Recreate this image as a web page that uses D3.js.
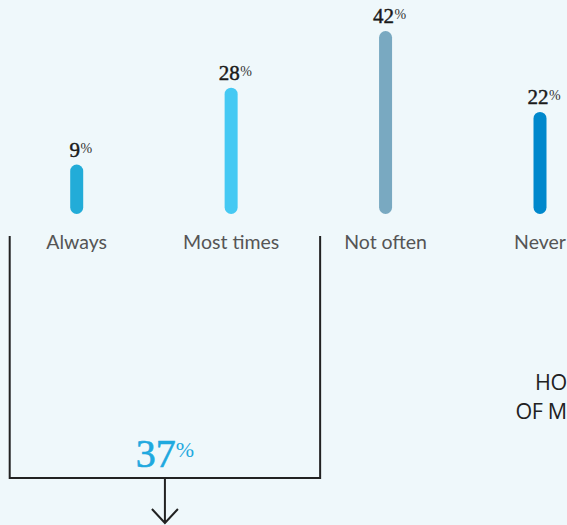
<!DOCTYPE html>
<html>
<head>
<meta charset="utf-8">
<script src="https://cdn.jsdelivr.net/npm/d3@7"></script>
<style>
  html, body { margin: 0; padding: 0; background: #eff8fb; }
  svg { display: block; }
</style>
</head>
<body>
<div id="chart"></div>
<script>
// data
var categories = ["Always", "Most times", "Not often", "Never"];
var values = [9, 28, 42, 22];
var barColors = ["#22acd8", "#45c9f3", "#79a9c1", "#0088cc"];
// the bracket groups the first two answers
var groupedCats = ["Always", "Most times"];
// side title, only the part that shows at the right edge
var sideTitle = ["HO", "OF M"];

var width = 567, height = 525;

var svg = d3.select("#chart").append("svg")
    .attr("width", width)
    .attr("height", height);

svg.append("rect")
    .attr("width", width)
    .attr("height", height)
    .attr("fill", "#eff8fb");

// set the ranges
var x = d3.scalePoint().domain(categories).range([76.7, 540]);
var y = d3.scaleLinear().domain([0, 42]).range([207.5, 37.5]);

// bars as thick lines with round caps
svg.selectAll(".bar")
    .data(values)
    .enter()
    .append("line")
    .attr("class", "bar")
    .attr("x1", function(d, i) { return x(categories[i]); })
    .attr("x2", function(d, i) { return x(categories[i]); })
    .attr("y1", y(0))
    .attr("y2", function(d) { return y(d); })
    .attr("stroke", function(d, i) { return barColors[i]; })
    .attr("stroke-width", 13)
    .attr("stroke-linecap", "round");

// value labels: number centred on the bar, small % after it
var serif = "'Liberation Serif', 'DejaVu Serif', serif";
values.forEach(function(v, i) {
    var cx = x(categories[i]);
    var by = y(v) - 6.5 - 8;
    var num = svg.append("text")
        .attr("x", cx - 2)
        .attr("y", by)
        .attr("text-anchor", "middle")
        .attr("font-family", serif)
        .attr("font-size", 21)
        .attr("fill", "#1a1a1a")
        .attr("stroke", "#1a1a1a")
        .attr("stroke-width", 0.45)
        .text(v);
    var w = num.node().getComputedTextLength();
    svg.append("text")
        .attr("x", cx - 2 + w / 2 + 0.5)
        .attr("y", by - 4)
        .attr("font-family", serif)
        .attr("font-size", 14)
        .attr("fill", "#333")
        .text("%");
});

// category labels
svg.selectAll(".cat")
    .data(categories)
    .enter()
    .append("text")
    .attr("class", "cat")
    .attr("x", function(d) { return x(d); })
    .attr("y", 249)
    .attr("text-anchor", "middle")
    .attr("font-family", "Lato, 'Open Sans', sans-serif")
    .attr("font-size", 19.5)
    .attr("fill", "#555")
    .text(function(d) { return d; });

// bracket around the grouped answers
var bLeft = x(groupedCats[0]) - 67,
    bRight = x(groupedCats[groupedCats.length - 1]) + 89,
    bTop = 236, bBottom = 478,
    bMid = (bLeft + bRight) / 2;

svg.append("path")
    .attr("d", "M" + bLeft + "," + bTop + "V" + bBottom + "H" + bRight + "V" + bTop)
    .attr("fill", "none")
    .attr("stroke", "#222")
    .attr("stroke-width", 2);

// arrow down
svg.append("path")
    .attr("d", "M" + bMid + "," + bBottom + "V" + 523 +
               "M" + (bMid - 13) + "," + 509 + "L" + bMid + "," + 523 + "L" + (bMid + 13) + "," + 509)
    .attr("fill", "none")
    .attr("stroke", "#222")
    .attr("stroke-width", 2);

// grouped total
var total = d3.sum(groupedCats, function(c) { return values[categories.indexOf(c)]; });
var tot = svg.append("text")
    .attr("y", 467)
    .attr("font-family", serif)
    .attr("font-size", 40)
    .attr("fill", "#1fa9df")
    .attr("stroke", "#1fa9df")
    .attr("stroke-width", 0.6)
    .text(total);
var tw = tot.node().getComputedTextLength();
var pct = svg.append("text")
    .attr("y", 457)
    .attr("font-family", serif)
    .attr("font-size", 22)
    .attr("fill", "#1fa9df")
    .text("%");
var pw = pct.node().getComputedTextLength();
var startX = bMid - (tw + pw) / 2;
tot.attr("x", startX);
pct.attr("x", startX + tw);

// side title at the right edge
svg.selectAll(".side")
    .data(sideTitle)
    .enter()
    .append("text")
    .attr("class", "side")
    .attr("x", function(d, i) { return i === 0 ? 535 : 515.5; })
    .attr("y", function(d, i) { return 389.5 + i * 29; })
    .attr("font-family", "'Open Sans', Lato, sans-serif")
    .attr("font-size", 21.5)
    .attr("letter-spacing", -0.4)
    .attr("fill", "#222")
    .text(function(d) { return d; });
</script>
</body>
</html>
